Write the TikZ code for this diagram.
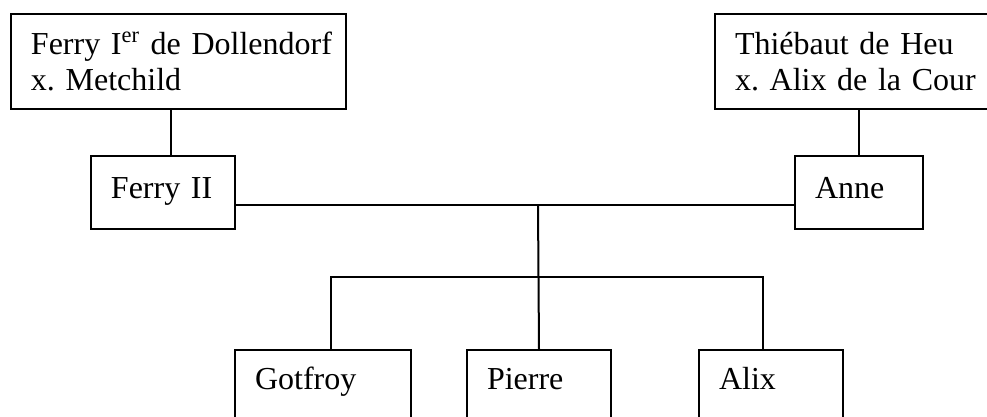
\documentclass[tikz,border=0pt]{standalone}
\usepackage{fontspec}
\setmainfont{Liberation Serif}
\usepackage{tikz}
\usetikzlibrary{positioning,calc}
\frenchspacing
\newcommand\personfont{\fontsize{16}{18}\selectfont\fontdimen2\font=2.5pt\fontdimen3\font=0pt\fontdimen4\font=0pt\relax}

\tikzset{
	person/.style={draw, line width=1pt, anchor=north west, align=left,
		inner xsep=10pt, inner ysep=8.5pt, text width=#1, font=\personfont},
	couple/.style={person=#1, minimum height=47.5pt},
	parent/.style={person=#1, text height=13pt, text depth=6.5pt},
	child/.style={person=#1, text height=11pt, text depth=20pt},
	link/.style={line width=1pt}
}

\begin{document}
\begin{tikzpicture}[x=1pt, y=-1pt]
			\fill[white] (0,0) rectangle (493.5,208.5);
			\useasboundingbox (0,0) rectangle (493.5,208.5);
			\node[couple=147.5pt] (fdoll) at (5,6.5) {\mbox{Ferry I\textsuperscript{er} de Dollendorf}\\\mbox{x. Metchild}};
			\node[couple=118pt] (thieb) at (357,6.5) {\mbox{Thiébaut de Heu}\\\mbox{x. Alix de la Cour}};
			\node[parent=52pt] (ferry) at (45,77.5) {Ferry II};
			\node[parent=44pt] (anne) at (397,77.5) {Anne};
			\node[child=68pt] (gotfroy) at (117,174.5) {Gotfroy};
			\node[child=52pt] (pierre) at (233,174.5) {Pierre};
			\node[child=52pt] (alix) at (349,174.5) {Alix};
			\coordinate (wed) at (269,102.5);
			\coordinate (sib) at (269,138.5);
			\draw[link] ([xshift=-3.75pt]fdoll.south) -- ([xshift=4pt]ferry.north);
			\draw[link] (anne.north |- thieb.south) -- (anne.north);
			\draw[link] (ferry.east |- wed) -- (anne.west |- wed);
			\draw[link] (wed) -- (pierre.north);
			\draw[link] ([xshift=4pt]gotfroy.north) |- (sib) -| ([xshift=-4pt]alix.north);
		\end{tikzpicture}
\end{document}
